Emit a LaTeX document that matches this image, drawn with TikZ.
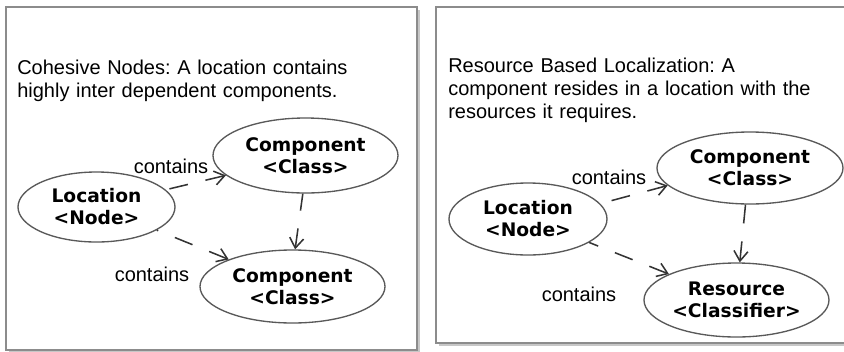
\documentclass[tikz,border=0pt]{standalone}
\usepackage{fontspec}
\setmainfont{Liberation Sans}
\newfontfamily\nodefont{DejaVu Sans}
\usetikzlibrary{shapes.geometric,arrows.meta}
\frenchspacing

\begin{document}
\begin{tikzpicture}[x=0.75pt,y=-0.75pt,
  panel/.style={draw=black!45, line width=1.5pt, fill=white},
  panelshadow/.style={fill=black!22},
  usecase/.style={ellipse, draw=black!65, line width=1pt, inner sep=0pt,
    align=center, font=\nodefont\bfseries\fontsize{14}{16.5}\selectfont},
  note/.style={anchor=base west, text width=300pt, align=left, inner sep=0pt,
    font=\fontsize{15}{17.25}\selectfont},
  lbl/.style={inner sep=0pt, font=\fontsize{15}{18}\selectfont},
  dep/.style={draw=black!80, line width=1.15pt,
    dash pattern=on 14.25pt off 13.5pt,
    {Straight Barb[length=7.5pt,width=10.5pt]}-}
]
\useasboundingbox (0,0) rectangle (844,351);

% panel frames with drop shadows
\fill[panelshadow] (9,10) rectangle (420,354);
\draw[panel] (6,7) rectangle (417,350);
\fill[panelshadow] (439,10) rectangle (853,346);
\draw[panel] (436,7) rectangle (850,343);

% left panel: cohesive nodes
\node[note] (t1) at (17,74) {Cohesive Nodes: A location contains\\highly inter dependent components.};
\node[usecase, minimum width=117.75pt, minimum height=52.5pt] (loc1) at (96.5,207) {Location\\<Node>};
\node[usecase, minimum width=138.75pt, minimum height=56.25pt] (c1) at (305.5,155.5) {Component\\<Class>};
\node[usecase, minimum width=138.75pt, minimum height=54.75pt] (c2) at (292.5,286.5) {Component\\<Class>};
\node[lbl] (l1) at (171,166) {contains};
\node[lbl] (l2) at (152,274) {contains};
\draw[dep] (c1.194) -- (loc1.14);
\draw[dep] (c2.157) -- (loc1.-21);
\draw[dep] (c2.86) -- (c1.-94);

% right panel: resource based localization
\node[note] (t2) at (448,72) {Resource Based Localization: A\\component resides in a location with the\\resources it requires.};
\node[usecase, minimum width=118.5pt, minimum height=54pt] (loc2) at (528,219) {Location\\<Node>};
\node[usecase, minimum width=139.5pt, minimum height=54pt] (c3) at (750,168) {Component\\<Class>};
\node[usecase, minimum width=138.75pt, minimum height=55.5pt] (res) at (736.5,300) {Resource\\<Classifier>};
\node[lbl] (l3) at (609,177) {contains};
\node[lbl] (l4) at (579,294) {contains};
\draw[dep] (c3.192) -- (loc2.12);
\draw[dep] (res.159) -- (loc2.-21);
\draw[dep] (res.85) -- (c3.-97);
\end{tikzpicture}
\end{document}
